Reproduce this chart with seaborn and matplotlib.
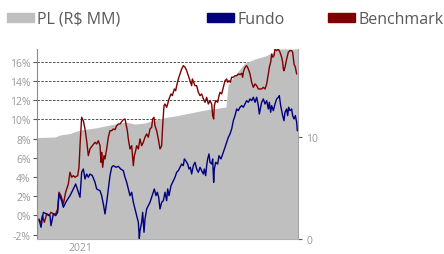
import pandas as pd
import matplotlib
matplotlib.use("Agg")
import matplotlib.pyplot as plt
import seaborn as sns
from matplotlib.patches import Patch

# Dados (dias desde o início da série)

inicio = pd.Timestamp("2020-08-25")

dias_fundo = [6, 12, 19, 29, 39, 42, 49, 56, 62, 66,
              74, 79, 89, 99, 109, 116, 124, 129, 134, 139,
              144, 149, 154, 159, 166, 174, 179, 189, 194, 199,
              204, 209, 214, 219, 224, 229, 237, 244, 251, 259,
              264, 269, 274, 279, 284, 289, 294, 299, 304, 307,
              309, 314, 317, 321, 324, 329, 334, 339, 344, 349,
              352, 357, 361, 365, 369, 374, 379, 384, 389, 392,
              396, 402, 409, 414, 419, 424, 429, 434, 439, 442,
              446, 452, 456, 460, 464, 469, 474, 479, 484, 489,
              494, 499, 502, 506, 509, 512, 516, 519, 524, 527,
              530, 532, 536, 542, 546, 552, 559, 564, 569, 574,
              579, 584, 589, 594, 599, 604, 609, 614, 619, 624,
              629, 634, 639, 644, 649, 654, 659, 664, 667, 671,
              674, 679, 684, 689, 694, 697, 701, 704, 709, 714,
              719, 724, 727, 731, 734, 737, 741, 744, 749, 752,
              755, 759, 764, 767, 771, 775, 779, 781]

fundo = [-0.38, -1.24, 0.32, 0.15, -0.03, -1.07, 0.15, -0.03, 0.32, 2.23,
         1.53, 0.84, 1.53, 2.05, 2.75, 3.27, 2.41, 1.89, 4.49, 4.83,
         3.79, 4.31, 3.97, 4.31, 4.14, 3.45, 2.75, 2.57, 2.05, 1.19,
         0.15, 1.36, 2.75, 4.14, 5.01, 5.18, 5.01, 5.11, 4.83, 4.66,
         3.97, 3.45, 2.75, 2.05, 2.41, 1.36, 0.67, -0.03, -0.72, -2.4,
         -1.59, -0.72, 0.32, -1.76, -0.38, 0.67, 1.01, 1.36, 1.89, 2.41,
         2.75, 2.05, 2.41, 1.89, 0.67, 1.36, 1.53, 2.41, 1.53, 2.75,
         2.05, 3.09, 3.61, 3.97, 4.49, 4.66, 5.01, 5.35, 5.18, 5.88,
         5.70, 5.35, 4.83, 5.01, 4.31, 5.18, 5.53, 4.83, 4.49, 5.01,
         4.66, 4.31, 4.83, 4.14, 5.18, 5.88, 6.40, 5.53, 5.35, 5.88,
         3.45, 4.83, 5.53, 5.35, 6.22, 5.88, 6.57, 7.09, 7.61, 8.14,
         8.48, 9.00, 9.86, 10.39, 11.08, 10.91, 11.26, 11.43, 11.26, 11.60,
         11.95, 11.78, 12.13, 11.95, 12.30, 11.78, 12.30, 11.43, 10.56, 11.26,
         11.78, 12.13, 11.60, 11.95, 11.08, 11.78, 10.74, 11.43, 10.91, 11.60,
         12.13, 12.30, 12.47, 11.43, 10.91, 10.39, 9.86, 10.74, 11.08, 10.39,
         11.26, 10.91, 11.08, 10.39, 10.04, 10.39, 9.70, 8.82]

dias_bench = [6, 12, 16, 22, 29, 36, 42, 49, 56, 62,
              66, 72, 79, 86, 94, 99, 104, 109, 114, 122,
              126, 129, 134, 139, 144, 149, 154, 159, 166, 174,
              179, 184, 189, 192, 194, 197, 201, 204, 209, 214,
              219, 224, 229, 234, 239, 244, 249, 254, 259, 264,
              267, 271, 274, 279, 284, 289, 292, 296, 299, 304,
              309, 314, 319, 324, 329, 334, 339, 344, 347, 351,
              354, 359, 364, 369, 374, 377, 381, 384, 389, 392,
              396, 402, 406, 412, 416, 419, 424, 429, 434, 439,
              444, 449, 454, 459, 464, 466, 470, 474, 479, 484,
              489, 494, 499, 504, 509, 514, 519, 524, 527, 530,
              532, 536, 542, 546, 549, 554, 559, 564, 569, 572,
              576, 580, 584, 589, 594, 599, 604, 609, 614, 617,
              619, 624, 629, 634, 639, 644, 649, 654, 659, 664,
              669, 674, 679, 684, 689, 694, 697, 701, 704, 707,
              711, 714, 719, 724, 729, 734, 737, 739, 741, 744,
              749, 754, 759, 764, 767, 771, 775, 779]

benchmark = [-0.55, -0.72, -0.03, -0.72, 0.15, -0.03, 0.32, 0.15, 0.15, 0.67,
             2.41, 2.05, 1.19, 2.41, 3.27, 4.49, 3.97, 4.14, 3.97, 4.14,
             5.01, 7.26, 10.22, 9.86, 9.00, 7.78, 6.22, 6.92, 7.26, 7.61,
             7.44, 7.78, 7.26, 5.53, 6.57, 5.01, 6.22, 5.88, 6.92, 8.14,
             8.82, 8.82, 9.00, 8.93, 9.34, 9.52, 9.52, 9.76, 9.97, 10.04,
             9.52, 8.82, 7.96, 6.92, 7.26, 5.18, 6.22, 6.74, 7.26, 6.92,
             7.96, 7.26, 7.61, 8.14, 8.48, 8.14, 9.00, 9.18, 10.04, 10.22,
             9.34, 8.82, 7.96, 6.92, 7.26, 9.34, 11.43, 11.60, 11.26, 11.60,
             12.13, 12.65, 12.47, 13.17, 12.99, 13.51, 14.21, 14.73, 15.25, 15.59,
             15.43, 15.07, 14.55, 14.03, 13.51, 14.21, 13.86, 13.51, 13.51, 12.82,
             12.47, 12.65, 12.13, 11.78, 12.30, 11.60, 11.95, 11.60, 10.39, 10.04,
             11.43, 11.95, 11.78, 12.47, 12.82, 12.65, 13.34, 14.03, 14.21, 13.86,
             14.03, 13.86, 14.39, 14.39, 14.55, 14.55, 14.73, 14.66, 14.80, 14.39,
             14.91, 15.43, 15.59, 15.25, 14.73, 13.86, 13.34, 13.69, 13.51, 13.17,
             13.17, 13.17, 13.34, 13.17, 13.69, 14.73, 15.43, 15.95, 16.81, 16.47,
             16.64, 17.33, 17.16, 17.33, 16.99, 16.47, 15.95, 15.25, 15.07, 15.43,
             16.29, 16.99, 17.16, 17.16, 16.99, 15.77, 15.43, 14.73]

dias_pl = [0, 54, 69, 99, 129, 174, 204, 234, 264, 294, 324, 354, 384, 414,
           459, 504, 534, 567, 573, 585, 609, 624, 654, 684, 705, 723, 783]
pl = [9.95, 10.0, 10.2, 10.34, 10.69, 10.88, 11.08, 11.27, 11.47, 11.27, 11.37,
      11.67, 11.91, 12.06, 12.35, 12.65, 12.79, 12.94, 15.1, 15.69, 16.67, 17.25,
      17.65, 17.94, 18.24, 18.63, 18.63]

ticks_pct = [-2, 0, 2, 4, 6, 8, 10, 12, 14, 16]
ticks_pl = [0, 10]

fechas_fundo = inicio + pd.to_timedelta(dias_fundo, unit="D")
fechas_bench = inicio + pd.to_timedelta(dias_bench, unit="D")
fechas_pl = inicio + pd.to_timedelta(dias_pl, unit="D")

# Estilo

sns.set_style("white")
plt.rcParams['font.family'] = ['Open Sans', 'DejaVu Sans']

cinza_txt = '#9a9a9a'

fig = plt.figure(figsize=(4.44, 2.55), dpi=100)
ax = fig.add_axes([37 / 444, 15 / 255, 261 / 444, 190 / 255])
ax2 = ax.twinx()

# PL como área no eixo da direita, atrás das linhas

ax2.fill_between(fechas_pl, 0, pl, color='#bfbfbf', lw=0, zorder=2)
ax2.hlines(ticks_pct, 0, 1, transform=ax.get_yaxis_transform(),
           colors='#505050', linestyles=(0, (2.5, 1.5)), lw=0.7, zorder=1)
ax2.set_ylim(0, 18.63)
ax2.set_yticks(ticks_pl)
ax2.set_yticklabels([str(t) for t in ticks_pl])

ax.set_zorder(ax2.get_zorder() + 1)
ax.patch.set_visible(False)

sns.lineplot(x=fechas_bench, y=benchmark, ax=ax, color='#800000', lw=1.0)
sns.lineplot(x=fechas_fundo, y=fundo, ax=ax, color='#000080', lw=1.0)

ax.set_ylim(-2.46, 17.33)
ax.set_xlim(inicio, inicio + pd.Timedelta(days=783))
ax.set_yticks(ticks_pct)
ax.set_yticklabels([f"{t}%" for t in ticks_pct])
ax.set_xticks([pd.Timestamp("2021-01-01")])
ax.set_xticklabels(["2021"])
ax.set_xlabel("")
ax.set_ylabel("")

ax.tick_params(axis='y', left=True, length=3, width=0.8, color='#595959',
               labelsize=7.5, labelcolor=cinza_txt, pad=1.5)
ax.tick_params(axis='x', length=0, labelsize=7.5, labelcolor=cinza_txt, pad=2)
ax2.tick_params(axis='y', right=True, length=3, width=0.8, color='#595959',
                labelsize=7.5, labelcolor=cinza_txt, pad=3)

for s in ['top', 'right']:
    ax.spines[s].set_visible(False)
ax.spines['left'].set_color('#8c8c8c')
ax.spines['left'].set_linewidth(0.8)
ax.spines['bottom'].set_color('#b0b0b0')
ax.spines['bottom'].set_linewidth(0.8)
for s in ['top', 'left', 'bottom']:
    ax2.spines[s].set_visible(False)
ax2.spines['right'].set_color('#a6a6a6')
ax2.spines['right'].set_linewidth(0.8)

# Legenda no topo

itens = [("PL (R$ MM)", '#bfbfbf', 7), ("Fundo", '#000080', 207), ("Benchmark", '#800000', 328)]
for nome, cor, xpos in itens:
    fig.legend(handles=[Patch(color=cor, label=nome)], loc='center left',
               bbox_to_anchor=(xpos / 444, 1 - 20 / 255), frameon=False,
               fontsize=11.5, labelcolor='#595959', handlelength=1.7,
               handleheight=0.45, handletextpad=0.2, borderpad=0, borderaxespad=0)

fig.savefig('out.png', dpi=100)
